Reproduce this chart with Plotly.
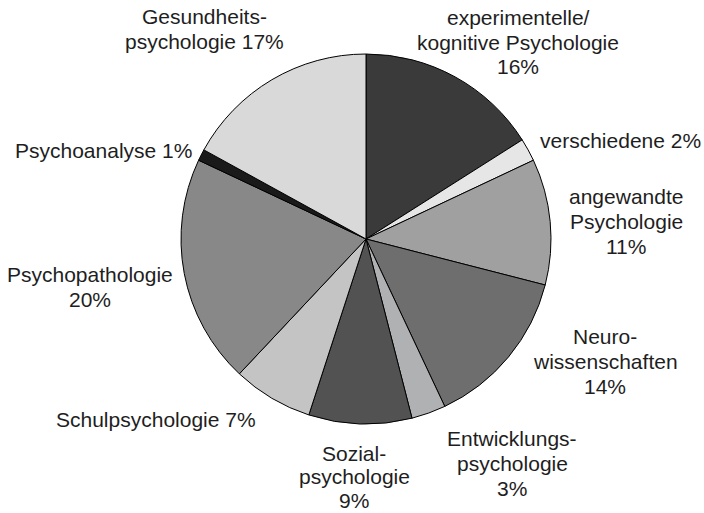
import plotly.graph_objects as go

categories = ["experimentelle/ kognitive Psychologie", "verschiedene", "angewandte Psychologie",
              "Neurowissenschaften", "Entwicklungspsychologie", "Sozialpsychologie",
              "Schulpsychologie", "Psychopathologie", "Psychoanalyse", "Gesundheitspsychologie"]
values = [16, 2, 11, 14, 3, 9, 7, 20, 1, 17]
colors = ["#3a3a3a", "#e6e6e6", "#a0a0a0", "#6e6e6e", "#b0b1b3",
          "#525252", "#c4c4c4", "#888888", "#1a1a1a", "#d9d9d9"]
label_lines = [["experimentelle/", "kognitive Psychologie", "16%"],
               ["verschiedene 2%"],
               ["angewandte", "Psychologie", "11%"],
               ["Neuro-", "wissenschaften", "14%"],
               ["Entwicklungs-", "psychologie", "3%"],
               ["Sozial-", "psychologie", "9%"],
               ["Schulpsychologie 7%"],
               ["Psychopathologie", "20%"],
               ["Psychoanalyse 1%"],
               ["Gesundheits-", "psychologie 17%"]]

W, H = 704, 513
cx, cy, r = 366, 239, 185

fig = go.Figure(go.Pie(
    labels=categories, values=values, sort=False, direction="clockwise", rotation=0,
    marker=dict(colors=colors, line=dict(color="black", width=1)),
    textinfo="none", hoverinfo="label+percent", showlegend=False,
    domain=dict(x=[(cx - r) / W, (cx + r) / W], y=[(H - cy - r) / H, (H - cy + r) / H]),
))

# label placement: (x of anchor, y of first line center, anchor, line spacing)
label_pos = [(518, 17, "center", 25), (538, 140, "left", 25), (626, 196, "center", 25),
             (605, 336, "center", 25), (512, 438, "center", 25), (354, 453, "center", 23.5),
             (156, 419, "center", 25), (90, 274, "center", 25), (13, 150, "left", 25),
             (204, 16, "center", 25)]
for lines, (x, y, a, sp) in zip(label_lines, label_pos):
    for i, t in enumerate(lines):
        fig.add_annotation(x=x / W, y=1 - (y + i * sp) / H, xref="paper", yref="paper", text=t,
                           showarrow=False, xanchor=a, yanchor="middle", align="center",
                           font=dict(family="Liberation Sans, Arial, sans-serif", size=21,
                                     color="#1e1e1e"))

fig.update_layout(width=W, height=H, margin=dict(l=0, r=0, t=0, b=0),
                  paper_bgcolor="white", plot_bgcolor="white")
fig.write_html("out.html", config={"displayModeBar": False},
               post_script="document.body.style.margin='0';")
